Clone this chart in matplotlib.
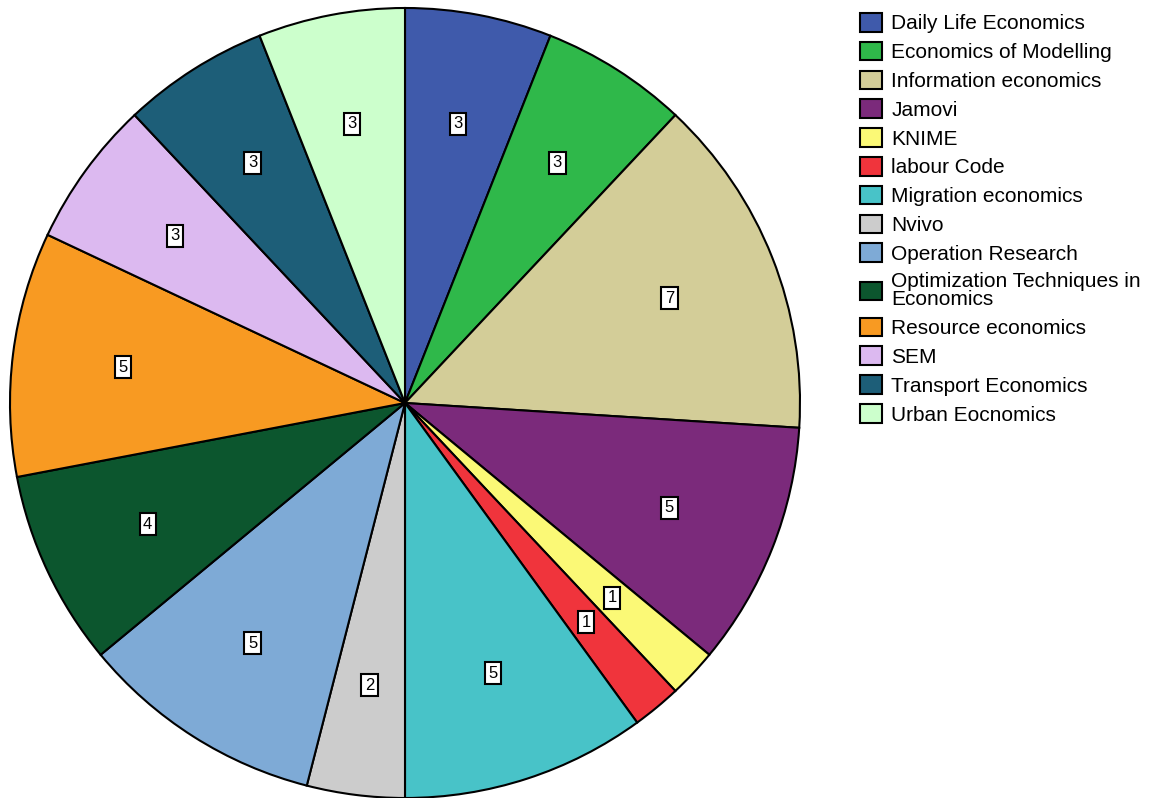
import matplotlib
matplotlib.use("Agg")
import matplotlib.pyplot as plt

plt.rcParams['font.family'] = ['Liberation Sans', 'DejaVu Sans']

# subjects and counts, clockwise from 12 o'clock
subjects = ["Daily Life Economics", "Economics of Modelling", "Information economics",
            "Jamovi", "KNIME", "labour Code", "Migration economics", "Nvivo",
            "Operation Research", "Optimization Techniques in\nEconomics",
            "Resource economics", "SEM", "Transport Economics", "Urban Eocnomics"]
counts = [3, 3, 7, 5, 1, 1, 5, 2, 5, 4, 5, 3, 3, 3]
colors = ["#3f5aab", "#2fb84a", "#d3cd98", "#7b2a7b", "#fbf976", "#f0343c",
          "#48c3c8", "#cccccc", "#7eaad6", "#0c562e", "#f89a22", "#dcb9f0",
          "#1d5e78", "#ccffcc"]

fig = plt.figure(figsize=(11.56, 7.98), dpi=100)
ax = fig.add_axes([10 / 1156, 0.0, 790 / 1156, 790 / 798])

wedges, texts = ax.pie(counts, colors=colors, startangle=90, counterclock=False,
                       labels=[str(c) for c in counts], labeldistance=0.72,
                       wedgeprops=dict(edgecolor="black", linewidth=1.5))
for t in texts:
    t.set_fontsize(12)
    t.set_ha("center")
    t.set_va("center")
    t.set_bbox(dict(facecolor="white", edgecolor="black", linewidth=1.5, pad=2.5))
ax.set_xlim(-1.0, 1.0)
ax.set_ylim(-1.0, 1.0)
ax.set_aspect("equal")

leg = fig.legend(wedges, subjects, loc="upper left",
                 bbox_to_anchor=(860 / 1156, 1 - 13 / 798),
                 frameon=False, fontsize=15, borderpad=0, borderaxespad=0,
                 handlelength=1.05, handleheight=1.0, handletextpad=0.45,
                 labelspacing=0.4)
for h in leg.legend_handles:
    h.set_linewidth(1.5)
for t in leg.get_texts():
    t.set_linespacing(0.95)

fig.savefig("out.png", dpi=100)
